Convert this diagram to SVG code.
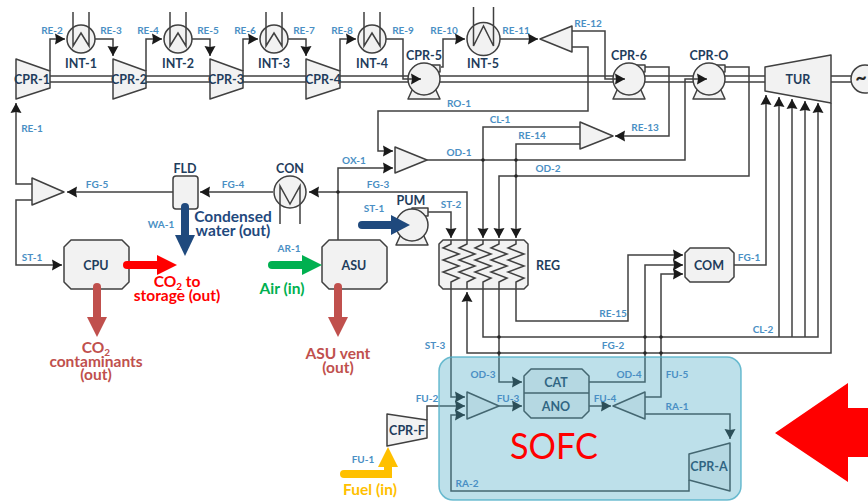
<svg xmlns="http://www.w3.org/2000/svg" width="868" height="501" viewBox="0 0 868 501">
<style>
text{font-family:Lato,"Open Sans","Liberation Sans",sans-serif;text-anchor:middle}
.n{fill:#f2f2f2;stroke:#404040;stroke-width:1.5;stroke-linejoin:round}
.l{fill:none;stroke:#404040;stroke-width:1.5}
.c{fill:none;stroke:#404040;stroke-width:1.5;marker-end:url(#a)}
.d{fill:#262626}
.t{font-size:12.5px;font-weight:700;fill:#1f3d5c}
.s{font-size:10px;font-weight:700;fill:#4a8fc4}
.o{font-size:15.5px;font-weight:700}
.b{fill:none;stroke-linecap:round;stroke-width:8}
</style>
<defs>
<marker id="a" markerUnits="userSpaceOnUse" markerWidth="11" markerHeight="12" refX="10" refY="6" orient="auto"><path d="M0,0.5 L10,6 L0,11.5 L1,6 Z" fill="#1a1a1a"/></marker>
<path id="zz" class="l" d="M0,240 V244 L-8,248 L8,254 L-8,260 L8,266 L-8,272 L8,278 L0,282 V289"/>
<path id="wd" class="l" d="M-8,-27 V7 L0,-6 L8,7 V-27"/>
<g id="pump"><path class="n" d="M-11,9 L-16,20 H16 L11,9 Z"/><rect class="n" x="0" y="-14" width="16" height="7"/><circle class="n" r="16"/></g>
</defs>
<g id="shafts">
<path class="l" d="M50,76 H765 M50,82 H765 M831,76 H851 M831,82 H851"/>
</g>
<g id="CPR-1"><polygon class="n" points="16,59 50,71 50,88 16,99"/><text class="t" x="32" y="84">CPR-1</text></g>
<g id="CPR-2"><polygon class="n" points="113,59 146,71 146,88 113,99"/><text class="t" x="129" y="84">CPR-2</text></g>
<g id="CPR-3"><polygon class="n" points="210,59 243,71 243,88 210,99"/><text class="t" x="226" y="84">CPR-3</text></g>
<g id="CPR-4"><polygon class="n" points="306,59 340,71 340,88 306,99"/><text class="t" x="323" y="84">CPR-4</text></g>
<g id="INT-1"><circle class="n" cx="81" cy="39" r="14"/><use href="#wd" x="81" y="39"/><text class="t" x="81" y="68">INT-1</text></g>
<g id="INT-2"><circle class="n" cx="178" cy="39" r="14"/><use href="#wd" x="178" y="39"/><text class="t" x="178" y="68">INT-2</text></g>
<g id="INT-3"><circle class="n" cx="274" cy="39" r="14"/><use href="#wd" x="274" y="39"/><text class="t" x="274" y="68">INT-3</text></g>
<g id="INT-4"><circle class="n" cx="372" cy="39" r="14"/><use href="#wd" x="372" y="39"/><text class="t" x="372" y="68">INT-4</text></g>
<g id="INT-5"><circle class="n" cx="483.5" cy="39" r="16.5"/><path class="l" d="M473.5,7 V46 L483.5,26 L493.5,46 V7"/><text class="t" x="483" y="68">INT-5</text></g>
<g id="CPR-5"><use href="#pump" x="424" y="79"/><text class="t" x="424" y="60">CPR-5</text></g>
<g id="CPR-6"><use href="#pump" x="629" y="79"/><text class="t" x="629" y="60">CPR-6</text></g>
<g id="CPR-O"><use href="#pump" x="709" y="79"/><text class="t" x="709" y="60">CPR-O</text></g>
<g id="TUR"><polygon class="n" points="765,67 831,55 831,103 765,91"/><text class="t" x="798" y="84">TUR</text></g>
<g id="GEN"><circle class="n" cx="865" cy="79" r="14"/><text x="861" y="85" style="font-size:20px;font-weight:700;fill:#262626">~</text></g>
<g id="MIX-RE12"><polygon class="n" points="540,39 572,26 572,52"/></g>
<g id="MIX-RE13"><polygon class="n" points="580,122 580,149 613,136"/></g>
<g id="MIX-OD1"><polygon class="n" points="395,147 395,173 427,160"/></g>
<g id="MIX-FG5"><polygon class="n" points="32,178 32,205 64,192"/></g>
<g id="FLD"><rect class="n" x="173" y="176" width="25" height="33" rx="3"/><text class="t" x="185" y="173">FLD</text></g>
<g id="CON"><circle class="n" cx="290" cy="192" r="16"/><path class="l" d="M280,224 V186 L290,204 L300,186 V224"/><text class="t" x="290" y="173">CON</text></g>
<g id="PUM"><g transform="translate(412,225)"><path class="n" d="M-11,9 L-16,20 H16 L11,9 Z"/><rect class="n" x="0" y="-17" width="16" height="8"/><circle class="n" r="16"/></g><text class="t" x="411" y="205">PUM</text></g>
<g id="CPU"><polygon class="n" points="71,240 122,240 129,247 129,282 122,289 71,289 64,282 64,247"/><text class="t" x="96" y="270">CPU</text></g>
<g id="ASU"><polygon class="n" points="329,240 380,240 387,247 387,282 380,289 329,289 322,282 322,247"/><text class="t" x="354" y="270">ASU</text></g>
<g id="REG"><polygon class="n" points="443,240 524,240 528,244 528,285 524,289 443,289 439,285 439,244"/><use href="#zz" x="451"/><use href="#zz" x="467"/><use href="#zz" x="483"/><use href="#zz" x="499"/><use href="#zz" x="516"/><text class="t" x="548" y="270">REG</text></g>
<g id="COM"><polygon class="n" points="690,248 729,248 734,253 734,277 729,282 690,282 685,277 685,253"/><text class="t" x="709" y="270">COM</text></g>
<g id="CAT-ANO"><polygon class="n" points="531,369 582,369 589,376 589,411 582,418 531,418 524,411 524,376"/><path class="l" d="M524,393 H589"/><text class="t" x="556" y="387">CAT</text><text class="t" x="556" y="411">ANO</text></g>
<g id="MIX-FU3"><polygon class="n" points="467,392 467,419 499,406"/></g>
<g id="MIX-FU4"><polygon class="n" points="613,406 645,392 645,419"/></g>
<g id="CPR-F"><polygon class="n" points="387,414 427,420 427,438 387,446"/><text class="t" x="407" y="435">CPR-F</text></g>
<g id="CPR-A"><polygon class="n" points="689,454 730,443 730,491 689,480"/><text class="t" x="709" y="471">CPR-A</text></g>
<g id="connectors">
<path class="c" d="M32,184 H16 V103"/>
<path class="c" d="M50,71 V39 H65"/><path class="c" d="M95,39 H113 V56"/>
<path class="c" d="M146,71 V39 H162"/><path class="c" d="M192,39 H210 V56"/>
<path class="c" d="M243,71 V39 H258"/><path class="c" d="M288,39 H306 V56"/>
<path class="c" d="M340,71 V39 H356"/><path class="c" d="M386,39 H403 V79 H421"/>
<path class="c" d="M441,67 H443 V39 H465"/><path class="c" d="M500,39 H538"/>
<path class="c" d="M572,31 H605 V79 H625"/>
<path class="c" d="M572,47 H588 V111 H378 V151 H393"/>
<path class="c" d="M645,67 H669 V136 H615"/>
<path class="c" d="M427,160 H685 V79 H707"/>
<path class="c" d="M725,67 H749 V176 H499 V238"/>
<path class="c" d="M580,127 H483 V238"/>
<path class="c" d="M580,144 H516 V238"/>
<path class="c" d="M338,240 V168 H393"/>
<path class="c" d="M467,240 V192 H309"/>
<path class="c" d="M428,212 H451 V238"/>
<path class="c" d="M273,192 H200"/>
<path class="c" d="M173,192 H67"/>
<path class="c" d="M32,200 H16 V265 H62"/>
<path class="c" d="M734,265 H766 V95"/>
<path class="c" d="M483,289 V337 H818 V103"/>
<path class="c" d="M779,337 V97"/><path class="c" d="M792,337 V99"/><path class="c" d="M805,337 V101"/>
<path class="c" d="M831,103 V353 H467 V292"/>
<path class="c" d="M516,289 V321 H628 V255 H683"/>
<path class="c" d="M589,382 H645 V265 H683"/>
<path class="c" d="M645,397 H661 V274 H683"/>
<path class="c" d="M499,289 V382 H522"/>
<path class="c" d="M451,289 V397 H465"/>
<path class="c" d="M427,420 V406 H465"/>
<path class="c" d="M689,480 V491 H451 V415 H465"/>
<path class="c" d="M499,406 H522"/>
<path class="c" d="M589,406 H611"/>
<path class="c" d="M645,414 H730 V439"/>
<g class="d"><circle cx="483" cy="160" r="1.8"/><circle cx="516" cy="160" r="1.8"/><circle cx="516" cy="176" r="1.8"/><circle cx="338" cy="192" r="1.8"/><circle cx="499" cy="337" r="1.8"/><circle cx="645" cy="337" r="1.8"/><circle cx="661" cy="337" r="1.8"/><circle cx="499" cy="353" r="1.8"/><circle cx="645" cy="353" r="1.8"/><circle cx="661" cy="353" r="1.8"/></g>
</g>
<rect id="SOFC-region" x="439" y="357" width="302" height="143" rx="14" fill="#4bacc6" fill-opacity=".37" stroke="#4bacc6" stroke-opacity=".8" stroke-width="1.5"/>
<g id="flows">
<path class="b" stroke="#1f497d" d="M185,207 V236"/><polygon fill="#1f497d" points="175,235 195,235 185,256"/>
<path class="b" stroke="#1f497d" d="M362,225 H392"/><polygon fill="#1f497d" points="391,215 391,235 410,225"/>
<path class="b" stroke="#ff0000" d="M127,265 H158"/><polygon fill="#ff0000" points="157,255 157,275 177,265"/>
<path class="b" stroke="#00b050" d="M272,265 H303"/><polygon fill="#00b050" points="302,255 302,275 322,265"/>
<path class="b" stroke="#c0504d" d="M97,287 V318"/><polygon fill="#c0504d" points="87,317 107,317 97,337"/>
<path class="b" stroke="#c0504d" d="M338,287 V318"/><polygon fill="#c0504d" points="328,317 348,317 338,337"/>
<path class="b" stroke="#ffc000" d="M344,474 H388 V466"/><polygon fill="#ffc000" points="378,467 398,467 388,447"/>
<polygon fill="#ff0000" points="775,433 848,383 848,408 868,408 868,457 848,457 848,482"/>
</g>
<g id="labels">
<text class="s" x="32" y="132">RE-1</text><text class="s" x="52" y="34">RE-2</text><text class="s" x="111" y="34">RE-3</text><text class="s" x="148" y="34">RE-4</text><text class="s" x="208" y="34">RE-5</text><text class="s" x="245" y="34">RE-6</text><text class="s" x="304" y="34">RE-7</text><text class="s" x="342" y="34">RE-8</text><text class="s" x="403" y="34">RE-9</text><text class="s" x="444" y="34">RE-10</text><text class="s" x="516" y="34">RE-11</text><text class="s" x="588" y="27">RE-12</text><text class="s" x="645" y="131">RE-13</text><text class="s" x="532" y="139">RE-14</text><text class="s" x="613" y="317">RE-15</text>
<text class="s" x="459" y="107">RO-1</text><text class="s" x="500" y="123">CL-1</text><text class="s" x="459" y="156">OD-1</text><text class="s" x="548" y="172">OD-2</text><text class="s" x="354" y="164">OX-1</text><text class="s" x="378" y="188">FG-3</text><text class="s" x="233" y="188">FG-4</text><text class="s" x="97" y="188">FG-5</text><text class="s" x="374" y="212">ST-1</text><text class="s" x="161" y="228">WA-1</text><text class="s" x="32" y="261">ST-1</text><text class="s" x="289" y="252">AR-1</text><text class="s" x="451" y="208">ST-2</text><text class="s" x="749" y="261">FG-1</text><text class="s" x="763" y="333">CL-2</text><text class="s" x="435" y="349">ST-3</text><text class="s" x="613" y="349">FG-2</text><text class="s" x="483" y="378">OD-3</text><text class="s" x="629" y="378">OD-4</text><text class="s" x="677" y="378">FU-5</text><text class="s" x="427" y="402">FU-2</text><text class="s" x="508" y="402">FU-3</text><text class="s" x="605" y="402">FU-4</text><text class="s" x="677" y="410">RA-1</text><text class="s" x="363" y="463">FU-1</text><text class="s" x="467" y="487">RA-2</text>
<text class="o" fill="#1f497d" x="233" y="222">Condensed</text><text class="o" fill="#1f497d" x="233" y="236">water (out)</text>
<text class="o" fill="#ff0000" x="177" y="287">CO<tspan font-size="10" dy="3">2</tspan><tspan dy="-3"> to</tspan></text><text class="o" fill="#ff0000" x="177" y="301">storage (out)</text>
<text class="o" fill="#00b050" x="282" y="294">Air (in)</text>
<text class="o" fill="#c0504d" x="96" y="353">CO<tspan font-size="10" dy="3">2</tspan></text><text class="o" fill="#c0504d" x="96" y="367">contaminants</text><text class="o" fill="#c0504d" x="96" y="380">(out)</text>
<text class="o" fill="#c0504d" x="338" y="359">ASU vent</text><text class="o" fill="#c0504d" x="338" y="373">(out)</text>
<text class="o" fill="#ffc000" x="370" y="495">Fuel (in)</text>
<text x="554" y="459" textLength="88" lengthAdjust="spacingAndGlyphs" style="font-size:37px;fill:#ff0000">SOFC</text>
</g>
</svg>
